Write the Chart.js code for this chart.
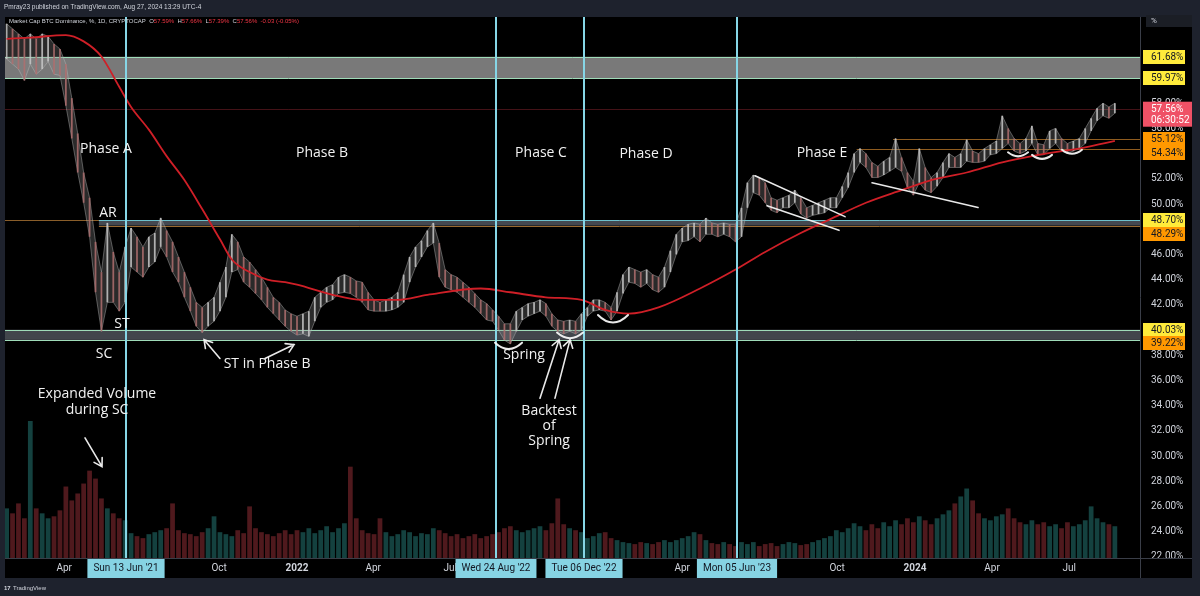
<!DOCTYPE html>
<html>
<head>
<meta charset="utf-8">
<script src="https://cdn.jsdelivr.net/npm/chart.js@4.4.1/dist/chart.umd.min.js"></script>
<style>
  html, body { margin: 0; padding: 0; background: #1e222d; }
  canvas { display: block; }
</style>
</head>
<body>
<canvas id="chart" width="1200" height="596"></canvas>
<script>
// ---- data (BTC dominance, %, one bar per week) ----
const WEEK_START = '2021-01-23';
const priceLow = [
  61.5, 61.1, 60.7, 59.8, 61.1, 60.3, 60.7, 61.3, 60.3, 60.2,
  57.8, 55.2, 52.5, 50.1, 47.4, 43.0, 39.9, 42.2, 42.2, 41.5,
  42.2, 45.0, 44.6, 44.2, 45.0, 45.4, 46.6, 45.8, 44.6, 43.8,
  42.6, 41.5, 40.3, 39.8, 40.3, 40.7, 41.5, 42.6, 44.6, 44.8,
  43.8, 43.4, 42.9, 42.4, 41.8, 41.3, 40.8, 40.3, 39.9, 39.6,
  39.7, 39.5, 40.7, 41.8, 42.2, 42.4, 42.9, 43.0, 42.9, 42.6,
  42.2, 41.6, 41.5, 41.5, 41.5, 41.6, 41.8, 42.2, 43.8, 45.0,
  45.8, 46.6, 46.9, 44.2, 43.4, 43.2, 43.0, 42.6, 42.2, 41.8,
  41.3, 40.8, 40.7, 40.0, 39.2, 38.9, 39.9, 40.8, 41.1, 41.3,
  41.5, 41.1, 40.3, 39.9, 39.7, 39.9, 39.7, 40.0, 41.1, 41.5,
  41.6, 41.5, 40.8, 41.5, 42.9, 43.8, 43.7, 43.4, 43.7, 43.2,
  43.0, 43.4, 44.6, 46.0, 47.0, 47.1, 47.4, 47.0, 47.6, 47.6,
  47.4, 47.6, 47.4, 47.0, 47.4, 49.7, 50.9, 50.7, 50.1, 49.5,
  49.3, 49.7, 49.7, 50.1, 49.2, 48.9, 49.1, 49.2, 49.3, 49.7,
  49.7, 50.5, 51.3, 52.5, 53.3, 52.9, 52.1, 52.1, 52.3, 52.6,
  52.9, 52.6, 51.3, 50.7, 51.7, 51.1, 50.9, 51.4, 52.1, 52.9,
  52.9, 52.9, 53.4, 53.3, 53.3, 53.4, 53.9, 54.0, 54.4, 54.8,
  54.2, 54.0, 54.2, 54.8, 53.9, 53.9, 54.4, 54.8, 54.2, 54.0,
  54.2, 54.4, 54.8, 55.8, 56.6, 57.0, 56.8, 57.2
];
const priceHigh = [
  64.3, 63.9, 63.5, 63.1, 63.5, 63.1, 63.5, 63.3, 62.7, 62.3,
  61.1, 58.4, 55.6, 52.5, 50.5, 47.0, 44.6, 48.5, 46.2, 44.6,
  46.6, 48.1, 47.4, 46.6, 47.4, 47.7, 48.9, 47.9, 47.0, 45.8,
  44.6, 43.4, 42.2, 41.8, 42.2, 42.6, 43.8, 45.0, 47.6, 47.0,
  45.8, 45.4, 44.8, 44.2, 43.4, 42.6, 42.2, 41.6, 41.3, 41.1,
  41.3, 41.5, 42.6, 43.0, 43.4, 43.6, 44.2, 44.4, 44.2, 43.9,
  43.8, 43.0, 42.4, 42.2, 42.4, 42.6, 43.0, 44.4, 45.8, 46.6,
  47.1, 47.9, 48.5, 46.9, 44.8, 44.4, 44.2, 43.8, 43.4, 42.9,
  42.4, 42.1, 41.6, 41.1, 40.5, 40.5, 41.5, 41.8, 42.1, 42.2,
  42.4, 42.1, 41.3, 40.8, 40.7, 40.8, 40.7, 41.3, 41.8, 42.4,
  42.4, 42.2, 41.8, 43.0, 44.4, 45.0, 44.8, 44.6, 44.8, 44.4,
  44.2, 45.0, 46.3, 47.6, 48.1, 48.4, 48.5, 48.4, 48.9, 48.5,
  48.4, 48.5, 48.4, 48.4, 49.7, 51.7, 52.3, 52.1, 51.7, 50.5,
  50.3, 50.5, 50.7, 51.1, 50.5, 49.7, 49.9, 50.1, 50.3, 50.5,
  50.5, 51.4, 52.5, 54.0, 54.4, 54.0, 53.3, 53.0, 53.4, 53.7,
  55.2, 53.7, 52.5, 51.8, 54.4, 52.9, 52.1, 52.5, 53.3, 54.0,
  53.7, 54.0, 55.1, 54.2, 54.0, 54.4, 54.7, 55.0, 57.0, 56.0,
  55.2, 54.8, 55.2, 56.2, 54.8, 54.7, 55.8, 56.0, 55.2, 54.8,
  55.0, 55.2, 56.0, 56.8, 57.6, 58.0, 57.7, 58.0
];
// volume, billions (approx.)
const volume = [
  10, 9, 11, 8, 27.6, 10, 9, 8, 8.4, 9.6,
  14.4, 11.6, 13, 15, 17.6, 16, 12,
  10, 9, 8, 7.6,
  5, 4.4, 4, 4.8, 5.2, 5.6, 6, 11, 5.6, 5, 4.8, 4.4, 5.2, 6, 8.4, 5.2, 4.8, 4.4, 5.6, 5, 10.4, 6, 5.2, 4.8, 4.4, 5, 5.6,
  4.8, 5.6, 5.2, 6, 5, 5.6, 6.4, 5.2, 6, 7, 18.4, 8, 5.6, 5,
  4.8, 8, 5.2, 4.4, 4.8, 5.6, 5.2, 4.4, 5, 4.8, 6, 5.6, 5, 4.4, 4.8, 4, 4.4, 4.8, 4, 4.4, 4.8, 5.2,
  6, 6.4, 5.6, 5.2, 5.6, 6, 6.4, 5.6, 7, 12, 6.8, 6, 5.6, 5.2,
  4, 4.4, 5, 5.2, 4, 3.6, 3.2, 3, 2.8, 3.2, 3, 2.8, 3.2, 3.6, 3.2, 3.6, 4, 4.4, 5.2, 4.8,
  3.6, 3, 2.8, 3.2, 2.8, 2.4, 3.2, 2.8, 3.2, 2.4, 2.8, 3, 2.4, 2.8, 3.2, 3, 2.6, 2.8, 3.2, 3.6,
  4, 4.4, 5.6, 5.2, 6, 7,
  6.4, 5.6, 6.8, 6, 7.2, 6.4, 7.6, 6.8, 8, 7.2, 8.4, 7.6, 6.8, 8, 8.8, 9.6, 11, 12.4, 14, 11.6,
  9, 8, 7.6, 8.4, 8.8, 10, 8, 7.2, 6.8, 7.6, 6.8, 7.2, 6.4, 6.8, 6, 7.2, 6.4, 6.8, 7.6, 10.4,
  8, 7.2, 6.8, 6.4
];
// moving average (red), sampled at week index
const maWeek = [0, 4, 10, 13, 16, 19, 21, 24, 27, 30, 33, 36, 38, 41, 44, 47, 49, 55, 60, 66,
  71, 80, 85, 91, 97, 101, 105, 110, 117, 123, 128, 134, 139, 145, 151, 156, 162, 168, 173, 182, 187];
const maValue = [63.1, 63.2, 63.4, 62.9, 61.7, 59.3, 57.7, 55.9, 53.8, 51.9, 49.6, 47.2, 45.6, 44.6, 44.0, 43.8, 43.6, 42.8, 42.4, 42.4,
  42.8, 43.3, 43.0, 42.6, 42.4, 41.6, 41.3, 41.8, 43.3, 44.8, 46.2, 47.7, 48.8, 50.1, 51.1, 51.9, 52.5, 53.3, 53.8, 54.5, 55.0];

// axis labels
const timeTickDates = ['2021-04-01', '2021-07-01', '2021-10-01', '2022-01-01', '2022-04-01', '2022-07-01', '2022-10-01',
  '2023-01-01', '2023-04-01', '2023-07-01', '2023-10-01', '2024-01-01', '2024-04-01', '2024-07-01'];
const timeTickLabels = ['Apr', 'Jul', 'Oct', '2022', 'Apr', 'Jul', 'Oct', '2023', 'Apr', 'Jul', 'Oct', '2024', 'Apr', 'Jul'];
const markerDates = ['2021-06-13', '2022-08-24', '2022-12-06', '2023-06-05'];
const markerLabels = ["Sun 13 Jun '21", "Wed 24 Aug '22", "Tue 06 Dec '22", "Mon 05 Jun '23"];
const priceTicks = [22, 24, 26, 28, 30, 32, 34, 36, 38, 40, 42, 44, 46, 48, 50, 52, 54, 56, 58, 60];

// drawn levels
const grayZones = [[59.97, 61.68], [39.22, 40.03]];
const arZone = [48.29, 48.70];
const arZoneFromDay = -234;
const orangeLevels = [55.12, 54.34];
const orangeFromDay = [704, 661];
const lastPrice = 57.56;
const yellowTags = [61.68, 59.97, 48.70, 40.03];
const orangeTags = [55.12, 54.34, 48.29, 39.22];

// text notes: day = days from 1 Jan 2022, v = price level
const noteText = ['Phase A', 'Phase B', 'Phase C', 'Phase D', 'Phase E', 'AR', 'ST', 'SC', 'ST in Phase B', 'Spring',
  'Backtest', 'of', 'Spring', 'Expanded Volume', 'during SC'];
const noteDay = [-225.6, 29.5, 288.2, 412.2, 620.1, -223.3, -206.7, -228, -35.4, 268.1, 297.7, 297.7, 297.7, -236.2, -236.2];
const noteLevel = [54.36, 54.05, 54.05, 53.97, 54.05, 49.32, 40.5, 38.14, 37.28, 38.06, 33.57, 32.39, 31.21, 34.91, 33.65];
// arrows [day1, v1, day2, v2] (head at the second point)
const arrows = [
  [-250.4, 31.45, -230.3, 29.17],
  [-91, 37.75, -109.8, 39.24],
  [-37.8, 37.75, -3.5, 38.85],
  [287, 34.6, 309.5, 39.24],
  [304.7, 34.6, 322.5, 39.24]
];
// trend lines [day1, v1, day2, v2]
const trendLines = [
  [541, 52.24, 647.3, 49.0],
  [555.2, 49.87, 640.2, 47.91],
  [679.2, 51.69, 804.4, 49.72]
];
// cup arcs [day1, day2, level, depth]
const cups = [
  [233.9, 265.8, 39.0, 0.5],
  [307.1, 337.8, 39.8, 0.45],
  [355.5, 391, 41.2, 0.6],
  [839.8, 863.5, 54.1, 0.32],
  [868.2, 891.8, 53.9, 0.32],
  [903.6, 927.2, 54.3, 0.32]
];

// ---- helpers ----
function dayOf(s) {
  const [y, m, d] = s.split('-').map(Number);
  return (Date.UTC(y, m - 1, d) - Date.UTC(2022, 0, 1)) / 864e5;
}
const firstDay = dayOf(WEEK_START);
const weekDay = priceLow.map((_, i) => firstDay + 7 * i);
const mid = priceLow.map((l, i) => (l + priceHigh[i]) / 2);
const isUp = mid.map((m, i) => i === 0 ? true : m >= mid[i - 1]);

const priceData = weekDay.map((d, i) => ({ x: d, y: [priceLow[i], priceHigh[i]] }));
const highData = weekDay.map((d, i) => ({ x: d, y: priceHigh[i] }));
const lowData = weekDay.map((d, i) => ({ x: d, y: priceLow[i] }));
const volData = weekDay.map((d, i) => ({ x: d, y: volume[i] }));
const maData = maWeek.map((w, i) => ({ x: firstDay + 7 * w, y: maValue[i] }));

const FONT = 'Roboto';

function arrow(ctx, x1, y1, x2, y2) {
  const a = Math.atan2(y2 - y1, x2 - x1), len = 9;
  ctx.beginPath();
  ctx.moveTo(x1, y1); ctx.lineTo(x2, y2);
  ctx.moveTo(x2 - len * Math.cos(a - 0.55), y2 - len * Math.sin(a - 0.55));
  ctx.lineTo(x2, y2);
  ctx.lineTo(x2 - len * Math.cos(a + 0.55), y2 - len * Math.sin(a + 0.55));
  ctx.stroke();
}

function tag(ctx, y, bg, fg, text) {
  ctx.fillStyle = bg;
  ctx.fillRect(1143, Math.round(y - 7), 42, 14);
  ctx.fillStyle = fg;
  ctx.fillText(text, 1151, y + 0.5);
}

const tvPlugin = {
  id: 'tvPlugin',
  beforeDraw(chart) {
    const { ctx, chartArea: a } = chart;
    ctx.save();
    ctx.fillStyle = '#1e222d';
    ctx.fillRect(0, 0, 1200, 596);
    ctx.fillStyle = '#000000';
    ctx.fillRect(a.left, a.top, 1192 - a.left, 578 - a.top);
    ctx.restore();
  },
  beforeDatasetsDraw(chart) {
    const { ctx, chartArea: a, scales: { x, y } } = chart;
    ctx.save();
    ctx.beginPath();
    ctx.rect(a.left, a.top, a.right - a.left, a.bottom - a.top);
    ctx.clip();
    // last price line
    ctx.strokeStyle = 'rgba(150,40,50,0.45)';
    ctx.lineWidth = 1;
    let py = Math.round(y.getPixelForValue(lastPrice)) + 0.5;
    ctx.beginPath(); ctx.moveTo(a.left, py); ctx.lineTo(a.right, py); ctx.stroke();
    // gray zones
    grayZones.forEach((z, i) => {
      const y1 = y.getPixelForValue(z[1]), y0 = y.getPixelForValue(z[0]);
      ctx.fillStyle = i === 0 ? 'rgba(128,128,128,0.95)' : 'rgba(70,74,80,0.95)';
      ctx.fillRect(a.left, y1, a.right - a.left, y0 - y1);
      ctx.strokeStyle = '#9fdcb9';
      ctx.beginPath();
      ctx.moveTo(a.left, Math.round(y1) + 0.5); ctx.lineTo(a.right, Math.round(y1) + 0.5);
      ctx.moveTo(a.left, Math.round(y0) + 0.5); ctx.lineTo(a.right, Math.round(y0) + 0.5);
      ctx.stroke();
    });
    // AR zone
    const ay1 = y.getPixelForValue(arZone[1]), ay0 = y.getPixelForValue(arZone[0]);
    const ax = x.getPixelForValue(arZoneFromDay);
    ctx.strokeStyle = '#8a5e2a';
    ctx.beginPath(); ctx.moveTo(a.left, Math.round(ay1) + 0.5); ctx.lineTo(a.right, Math.round(ay1) + 0.5); ctx.stroke();
    ctx.fillStyle = 'rgba(72,76,84,0.95)';
    ctx.fillRect(ax, ay1, a.right - ax, ay0 - ay1);
    ctx.strokeStyle = '#6cc0cc';
    ctx.beginPath(); ctx.moveTo(ax, Math.round(ay1) + 0.5); ctx.lineTo(a.right, Math.round(ay1) + 0.5); ctx.stroke();
    ctx.strokeStyle = '#9a6a30';
    ctx.beginPath(); ctx.moveTo(ax, Math.round(ay0) + 0.5); ctx.lineTo(a.right, Math.round(ay0) + 0.5); ctx.stroke();
    // orange levels
    ctx.strokeStyle = '#8f5c1f';
    orangeLevels.forEach((v, i) => {
      const yy = Math.round(y.getPixelForValue(v)) + 0.5;
      ctx.beginPath(); ctx.moveTo(x.getPixelForValue(orangeFromDay[i]), yy); ctx.lineTo(a.right, yy); ctx.stroke();
    });
    ctx.restore();
  },
  afterDatasetsDraw(chart) {
    const { ctx, chartArea: a, scales: { x, y } } = chart;
    ctx.save();
    ctx.beginPath();
    ctx.rect(a.left, a.top, a.right - a.left, a.bottom - a.top);
    ctx.clip();
    // vertical marker lines
    ctx.strokeStyle = '#86d6e6';
    ctx.lineWidth = 2;
    markerDates.forEach(s => {
      const px = Math.round(x.getPixelForValue(dayOf(s)));
      ctx.beginPath(); ctx.moveTo(px, a.top); ctx.lineTo(px, 578); ctx.stroke();
    });
    // drawings
    ctx.strokeStyle = 'rgba(245,245,245,0.95)';
    ctx.lineWidth = 1.6;
    ctx.lineCap = 'round';
    trendLines.forEach(l => {
      ctx.beginPath();
      ctx.moveTo(x.getPixelForValue(l[0]), y.getPixelForValue(l[1]));
      ctx.lineTo(x.getPixelForValue(l[2]), y.getPixelForValue(l[3]));
      ctx.stroke();
    });
    arrows.forEach(l => arrow(ctx, x.getPixelForValue(l[0]), y.getPixelForValue(l[1]),
      x.getPixelForValue(l[2]), y.getPixelForValue(l[3])));
    ctx.lineWidth = 2;
    cups.forEach(c => {
      const x1 = x.getPixelForValue(c[0]), x2 = x.getPixelForValue(c[1]);
      const yy = y.getPixelForValue(c[2]), yb = y.getPixelForValue(c[2] - 2 * c[3]);
      ctx.beginPath(); ctx.moveTo(x1, yy); ctx.quadraticCurveTo((x1 + x2) / 2, yb, x2, yy); ctx.stroke();
    });
    ctx.fillStyle = '#f2f2f2';
    ctx.font = '14px "Open Sans"';
    ctx.textAlign = 'center';
    ctx.textBaseline = 'middle';
    noteText.forEach((t, i) => ctx.fillText(t, x.getPixelForValue(noteDay[i]), y.getPixelForValue(noteLevel[i])));
    ctx.restore();
  },
  afterDraw(chart) {
    const { ctx, chartArea: a, scales: { x, y } } = chart;
    ctx.save();
    // axis borders
    ctx.strokeStyle = '#3a3e48';
    ctx.lineWidth = 1;
    ctx.beginPath();
    ctx.moveTo(a.right + 0.5, a.top); ctx.lineTo(a.right + 0.5, 578);
    ctx.moveTo(a.left, a.bottom + 0.5); ctx.lineTo(1192, a.bottom + 0.5);
    ctx.stroke();
    // time axis labels
    ctx.textAlign = 'center';
    ctx.textBaseline = 'middle';
    timeTickDates.forEach((s, i) => {
      const bold = /^\d{4}$/.test(timeTickLabels[i]);
      ctx.font = (bold ? 'bold ' : '') + '10px ' + FONT;
      ctx.fillStyle = '#d1d4dc';
      ctx.fillText(timeTickLabels[i], x.getPixelForValue(dayOf(s)), 568);
    });
    ctx.font = '10px ' + FONT;
    markerDates.forEach((s, i) => {
      const px = Math.round(x.getPixelForValue(dayOf(s)));
      const w = ctx.measureText(markerLabels[i]).width + 12;
      ctx.fillStyle = '#86d3e3';
      ctx.fillRect(px - w / 2, a.bottom + 1, w, 19);
      ctx.fillStyle = '#131722';
      ctx.fillText(markerLabels[i], px, 568);
    });
    // price tags on the right axis
    ctx.textAlign = 'left';
    ctx.font = '10px ' + FONT;
    const tags = yellowTags.map(v => ({ v, bg: '#ffeb3b' })).concat(orangeTags.map(v => ({ v, bg: '#ff9800' })))
      .map(t => Object.assign(t, { py: y.getPixelForValue(t.v) }))
      .sort((p, q) => p.py - q.py);
    let prev = -100;
    tags.forEach(t => {
      const py = Math.max(t.py, prev + 13.5);
      prev = py;
      tag(ctx, py, t.bg, '#131722', t.v.toFixed(2) + '%');
    });
    const ly = y.getPixelForValue(lastPrice);
    ctx.fillStyle = '#ef5166';
    ctx.fillRect(1143, ly - 7, 49, 25);
    ctx.fillStyle = '#ffffff';
    ctx.fillText(lastPrice.toFixed(2) + '%', 1151, ly + 0.5);
    ctx.fillText('06:30:52', 1151, ly + 11.5);
    // unit box
    ctx.fillStyle = '#1b1e25';
    ctx.fillRect(1146, 15, 46, 12);
    ctx.fillStyle = '#d1d4dc';
    ctx.font = '8px ' + FONT;
    ctx.fillText('%', 1151, 21);
    // header & legend
    ctx.font = '6.5px "Liberation Sans"';
    ctx.fillStyle = '#d1d4dc';
    ctx.fillText('Pmray23 published on TradingView.com, Aug 27, 2024 13:29 UTC-4', 4, 7);
    ctx.font = '6px "Liberation Sans"';
    let lx = 9;
    const parts = [['Market Cap BTC Dominance, %, 1D, CRYPTOCAP  ', '#d1d4dc'], ['O', '#d1d4dc'], ['57.59%  ', '#f23645'],
      ['H', '#d1d4dc'], ['57.66%  ', '#f23645'], ['L', '#d1d4dc'], ['57.39%  ', '#f23645'], ['C', '#d1d4dc'],
      ['57.56%  -0.03 (-0.05%)', '#f23645']];
    parts.forEach(p => { ctx.fillStyle = p[1]; ctx.fillText(p[0], lx, 21); lx += ctx.measureText(p[0]).width; });
    ctx.font = 'bold 6px "Liberation Sans"';
    ctx.fillStyle = '#d1d4dc';
    ctx.fillText('17', 4, 588);
    ctx.font = '6px "Liberation Sans"';
    ctx.fillText('TradingView', 13, 588);
    ctx.restore();
  }
};

new Chart(document.getElementById('chart'), {
  type: 'bar',
  data: {
    datasets: [
      {
        type: 'line',
        data: maData,
        borderColor: '#cf1f27',
        borderWidth: 1.8,
        pointRadius: 0,
        cubicInterpolationMode: 'monotone',
        yAxisID: 'y',
        order: 0
      },
      {
        data: priceData,
        backgroundColor: isUp.map(u => u ? 'rgba(200,200,200,0.85)' : 'rgba(175,110,110,0.85)'),
        barPercentage: 0.3,
        categoryPercentage: 1,
        grouped: false,
        yAxisID: 'y',
        order: 1
      },
      {
        type: 'line',
        data: highData,
        borderColor: 'rgba(185,185,185,0.55)',
        borderWidth: 0.8,
        pointRadius: 0,
        fill: false,
        yAxisID: 'y',
        order: 2
      },
      {
        type: 'line',
        data: lowData,
        borderColor: 'rgba(185,185,185,0.55)',
        borderWidth: 0.8,
        pointRadius: 0,
        fill: '-1',
        backgroundColor: 'rgba(140,140,140,0.3)',
        yAxisID: 'y',
        order: 2
      },
      {
        data: volData,
        backgroundColor: isUp.map(u => u ? 'rgba(22,72,70,0.9)' : 'rgba(88,28,32,0.9)'),
        barPercentage: 0.8,
        categoryPercentage: 1,
        grouped: false,
        yAxisID: 'yv',
        order: 3
      }
    ]
  },
  options: {
    responsive: false,
    animation: false,
    devicePixelRatio: 1,
    layout: { padding: { left: 5, right: 8, top: 13, bottom: 18 } },
    plugins: { legend: { display: false }, tooltip: { enabled: false }, filler: { propagate: false } },
    scales: {
      x: {
        type: 'linear',
        min: -344.9,
        max: 995.7,
        offset: false,
        grid: { display: false, drawTicks: false },
        border: { display: false },
        ticks: { display: false },
        afterFit(s) { s.height = 20; }
      },
      y: {
        position: 'right',
        min: 21.92,
        max: 64.835,
        grid: { display: false, drawTicks: false },
        border: { display: false },
        afterBuildTicks(s) {
          s.ticks = priceTicks.map(v => ({ value: v }));
        },
        ticks: {
          padding: 11,
          color: '#d1d4dc',
          font: { family: FONT, size: 10 },
          callback: v => v.toFixed(2) + '%'
        },
        afterFit(s) { s.width = 52; }
      },
      yv: {
        display: false,
        min: 0,
        max: 109
      }
    }
  },
  plugins: [tvPlugin]
});
</script>
</body>
</html>
